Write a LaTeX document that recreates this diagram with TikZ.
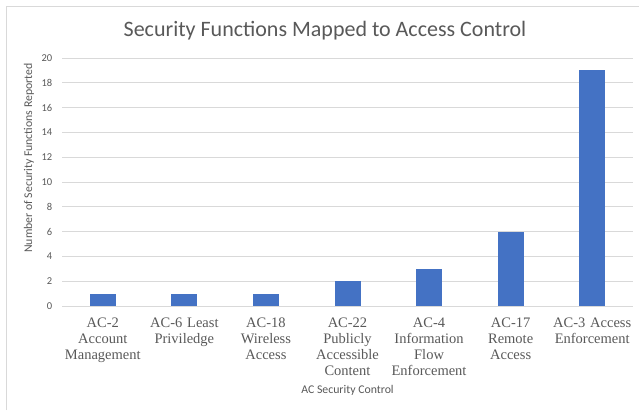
\documentclass[tikz,border=0pt]{standalone}
\usepackage{fontspec}
\setmainfont{Carlito}
\newfontfamily\catfont{Liberation Serif}
\definecolor{gridgray}{HTML}{D9D9D9}
\definecolor{textgray}{HTML}{595959}
\definecolor{barblue}{HTML}{4472C4}
\begin{document}
\begin{tikzpicture}[x=1pt,y=1pt,
  gridline/.style={draw=gridgray,line width=0.9pt},
  ticklabel/.style={text=textgray,font=\fontsize{10.5}{12}\selectfont,anchor=east,inner sep=0pt},
  catlabel/.style={text=textgray,font=\catfont\fontsize{14.5}{16}\selectfont,align=center,anchor=north,inner sep=0pt,text width=80pt},
  axistitle/.style={text=textgray,font=\fontsize{11.8}{13}\selectfont,inner sep=0pt}]
% canvas: 639 x 410, y measured upward from the bottom
\useasboundingbox (0,0) rectangle (639,410);
\fill[white] (0,0) rectangle (639,410);
% chart frame (left and top edges)
\draw[gridgray,line width=1pt] (6.5,0) -- (6.5,403) -- (639,403);
% title
\node[text=textgray,font=\fontsize{22}{26}\selectfont,inner sep=0pt] (title) at (325,379) {Security Functions Mapped to Access Control};
% gridlines and value labels
\foreach \v in {0,2,...,20}{
  \pgfmathsetmacro{\yy}{104+12.4*\v}
  \draw[gridline] (62,\yy) -- (633,\yy);
  \node[ticklabel] (tick\v) at (52.5,\yy) {\v};
}
% vertical axis title
\node[axistitle,rotate=90] (ytitle) at (29,252) {Number of Security Functions Reported};
% bars
\foreach \i/\val in {1/1,2/1,3/1,4/2,5/3,6/6,7/19}{
  \pgfmathsetmacro{\cx}{62+(\i-0.5)*81.57}
  \pgfmathsetmacro{\top}{104+12.4*\val}
  \fill[barblue] (\cx-13,104) rectangle (\cx+13,\top);
  \coordinate (bar\i) at (\cx,104);
}
% category labels
\foreach \i/\txt in {1/{AC-2\\Account\\Management},2/{AC-6 Least\\Priviledge},3/{AC-18\\Wireless\\Access},4/{AC-22\\Publicly\\Accessible\\Content},5/{AC-4\\Information\\Flow\\Enforcement},6/{AC-17\\Remote\\Access},7/{AC-3 Access\\Enforcement}}{
  \node[catlabel] (cat\i) at ([yshift=-12pt]bar\i) {\txt};
}
% horizontal axis title
\node[axistitle] (xtitle) at (347.5,20) {AC Security Control};
\end{tikzpicture}
\end{document}
